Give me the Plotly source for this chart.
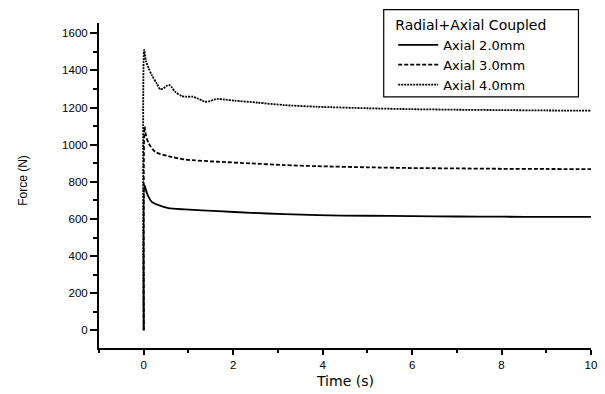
import plotly.graph_objects as go

# Force response over time for three axial depths (radial + axial coupled loading)
t_2mm = [0, 0.02, 0.05, 0.09, 0.18, 0.33, 0.55, 0.92, 1.66, 2.4, 3.14, 3.88, 5, 6, 7, 8, 9, 10]
f_2mm = [0, 782, 755, 728, 692, 674, 658, 651, 642, 633, 626, 620, 617, 615, 613, 612, 611, 611]

t_3mm = [0, 0.02, 0.05, 0.11, 0.26, 0.55, 0.92, 1.66, 2.4, 3.14, 3.88, 5, 6, 7, 8, 9, 10]
f_3mm = [0, 1098, 1050, 1007, 961, 938, 920, 908, 899, 890, 884, 878, 874, 872, 870, 869, 868]

t_4mm = [0, 0.01, 0.05, 0.11, 0.18, 0.29, 0.37, 0.45, 0.52, 0.57, 0.63, 0.7, 0.85, 0.95,
         1.1, 1.2, 1.3, 1.37, 1.48, 1.58, 1.66, 1.8, 2.03, 2.55, 3.14, 3.88, 5, 6, 7, 8, 9, 10]
f_4mm = [0, 1510, 1450, 1411, 1375, 1330, 1298, 1305, 1318, 1321, 1308, 1285, 1262, 1258,
         1258, 1249, 1238, 1231, 1234, 1243, 1246, 1243, 1237, 1226, 1213, 1204, 1196, 1191,
         1188, 1186, 1184, 1183]

series = [
    ("Axial 2.0mm", t_2mm, f_2mm, "solid"),
    ("Axial 3.0mm", t_3mm, f_3mm, "4px,2px"),
    ("Axial 4.0mm", t_4mm, f_4mm, "2px,1px"),
]

fig = go.Figure()
for name, t, f, dash in series:
    fig.add_trace(go.Scatter(
        x=t, y=f, mode="lines", name=name,
        line=dict(color="black", width=1.8, dash=dash, shape="spline", smoothing=0.7),
    ))

tick_font = dict(family="Liberation Sans, Arial", size=11.5, color="black")

fig.update_xaxes(
    range=[-1, 10], tick0=0, dtick=2,
    showline=True, linecolor="black", linewidth=2,
    ticks="outside", ticklen=5, tickwidth=1.5, tickcolor="black",
    minor=dict(dtick=1, ticks="outside", ticklen=3, tickwidth=1.5, tickcolor="black"),
    showgrid=False, zeroline=False, tickfont=tick_font,
)
fig.update_yaxes(
    range=[-95, 1655], tick0=0, dtick=200,
    showline=True, linecolor="black", linewidth=2,
    ticks="outside", ticklen=7, tickwidth=1.5, tickcolor="black",
    minor=dict(dtick=100, ticks="outside", ticklen=4, tickwidth=1.5, tickcolor="black"),
    showgrid=False, zeroline=False, tickfont=tick_font,
)

fig.update_layout(
    width=605, height=394,
    margin=dict(l=99, r=8, t=23, b=46),
    paper_bgcolor="white", plot_bgcolor="white",
    showlegend=True,
    legend=dict(
        x=0.598, y=1.035, xanchor="left", yanchor="top",
        borderwidth=0, bgcolor="rgba(0,0,0,0)",
        font=dict(family="DejaVu Sans", size=13, color="black"),
        title=dict(text="Radial+Axial Coupled",
                   font=dict(family="DejaVu Sans", size=14, color="black")),
        tracegroupgap=0, itemwidth=40,
    ),
    shapes=[
        # legend frame
        dict(type="rect", xref="paper", yref="paper",
             x0=0.5787, x1=0.9745, y0=0.7728, y1=1.041,
             line=dict(color="black", width=1.2), fillcolor="rgba(0,0,0,0)", layer="below"),
    ],
    annotations=[
        dict(text="Force (N)", xref="paper", yref="paper", x=-0.1547, y=0.517,
             textangle=-90, showarrow=False, xanchor="center", yanchor="middle",
             font=dict(family="Liberation Sans, Arial", size=12, color="black")),
        dict(text="Time (s)", xref="paper", yref="paper", x=0.5, y=-0.1,
             showarrow=False, xanchor="center", yanchor="middle",
             font=dict(family="DejaVu Sans", size=14, color="black")),
    ],
)

fig.write_html("out.html")
